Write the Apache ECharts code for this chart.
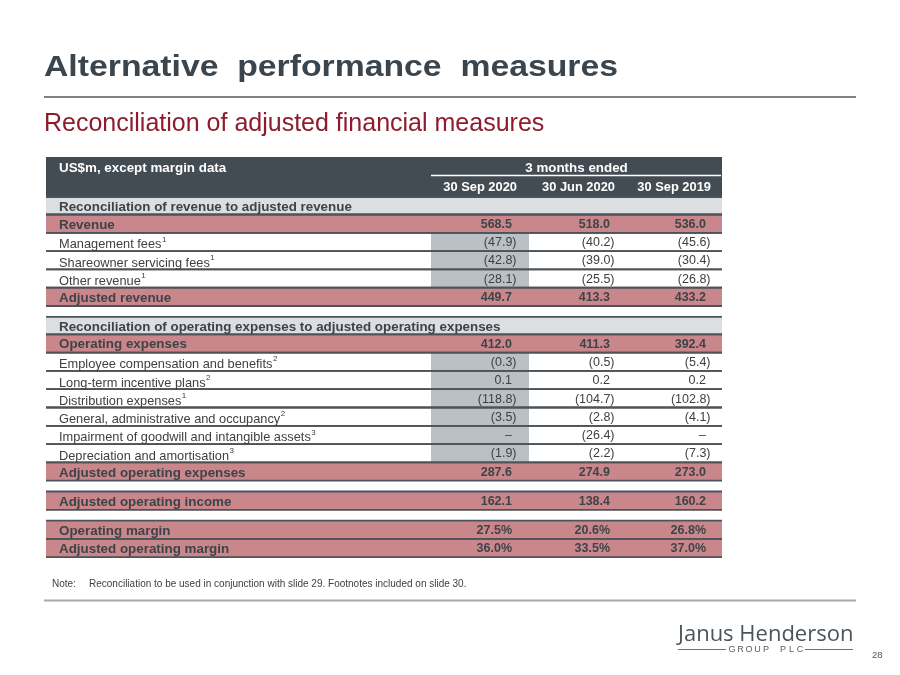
<!DOCTYPE html>
<html><head><meta charset="utf-8">
<script src="https://cdn.jsdelivr.net/npm/echarts@6/dist/echarts.min.js"></script>
<style>html,body{margin:0;padding:0;background:#fff}#c{width:900px;height:675px}</style>
</head><body><div id="c"></div>
<script>
// ---------- data ----------
const periods = ['30 Sep 2020', '30 Jun 2020', '30 Sep 2019'];
const periodGroup = '3 months ended';
const rowLabels = [
  'US$m, except margin data',
  'Reconciliation of revenue to adjusted revenue',
  'Revenue',
  'Management fees',
  'Shareowner servicing fees',
  'Other revenue',
  'Adjusted revenue',
  '',
  'Reconciliation of operating expenses to adjusted operating expenses',
  'Operating expenses',
  'Employee compensation and benefits',
  'Long-term incentive plans',
  'Distribution expenses',
  'General, administrative and occupancy',
  'Impairment of goodwill and intangible assets',
  'Depreciation and amortisation',
  'Adjusted operating expenses',
  '',
  'Adjusted operating income',
  '',
  'Operating margin',
  'Adjusted operating margin'
];
const rowTypes = ['header','section','total','item','item','item','total','spacer',
  'section','total','item','item','item','item','item','item','total','spacer',
  'total','spacer','pct','pct'];
const footnotes = [null,null,null,1,1,1,null,null,null,null,2,2,1,2,3,3,null,null,null,null,null,null];
const sep2020 = [null,null,568.5,-47.9,-42.8,-28.1,449.7,null,null,412.0,-0.3,0.1,-118.8,-3.5,null,-1.9,287.6,null,162.1,null,27.5,36.0];
const jun2020 = [null,null,518.0,-40.2,-39.0,-25.5,413.3,null,null,411.3,-0.5,0.2,-104.7,-2.8,-26.4,-2.2,274.9,null,138.4,null,20.6,33.5];
const sep2019 = [null,null,536.0,-45.6,-30.4,-26.8,433.2,null,null,392.4,-5.4,0.2,-102.8,-4.1,null,-7.3,273.0,null,160.2,null,26.8,37.0];
const titleText = 'Alternative  performance  measures';
const subtitleText = 'Reconciliation of adjusted financial measures';
const noteText = 'Reconciliation to be used in conjunction with slide 29. Footnotes included on slide 30.';

// ---------- layout / style ----------
const FONT = '"Liberation Sans", Arial, Helvetica, sans-serif';
const ROW_H = {header: 40, section: 17.5, total: 18.3, item: 18.3, pct: 18.3, spacer: 10.8};
const TABLE_W = 676;
const rowTop = [];
let acc = 0;
rowTypes.forEach(t => { rowTop.push(acc); acc += ROW_H[t]; });
const TABLE_H = acc;
const LABEL_X = 13;
const VAL_RIGHT = [466, 564, 660];
const BAND = [385, 483];
const cols = [sep2020, jun2020, sep2019];
const BOLD_SCALE = 1.07;

function fmt(v, type) {
  if (v === null || v === undefined) return '\u2013';
  if (v < 0) return '(' + Math.abs(v).toFixed(1) + ')';
  return v.toFixed(1) + (type === 'pct' ? '%' : '');
}

const C = {
  header: '#434b53', section: '#dcdfe2', pink: '#c9878c', band: '#b9c0c6',
  line: '#4d5359', text: '#404040', bold: '#3e4348'
};

function renderItem(params, api) {
  const i = params.dataIndex;
  const type = rowTypes[i];
  const top = rowTop[i], h = ROW_H[type];
  const a = api.coord([0, top]);
  const b = api.coord([TABLE_W, top + h]);
  const x0 = a[0], y0 = a[1], x1 = b[0], y1 = b[1];
  const cy = (y0 + y1) / 2;
  const X = v => api.coord([v, 0])[0];
  const ch = [];
  if (type === 'spacer') return {type: 'group', children: []};
  if (type === 'header') {
    ch.push({type: 'rect', shape: {x: x0, y: y0, width: x1 - x0, height: y1 - y0}, style: {fill: C.header}, z2: 0});
    ch.push({type: 'text', z2: 10, x: X(LABEL_X), y: y0 + 12, scaleX: BOLD_SCALE, style: {text: rowLabels[i], x: 0, y: 0, align: 'left', verticalAlign: 'middle',
      fontFamily: FONT, fontWeight: 'bold', fontSize: 12.5, fill: '#ffffff'}});
    ch.push({type: 'text', z2: 10, x: (X(BAND[0]) + x1) / 2, y: y0 + 11.5, scaleX: BOLD_SCALE, style: {text: periodGroup, x: 0, y: 0, align: 'center', verticalAlign: 'middle',
      fontFamily: FONT, fontWeight: 'bold', fontSize: 12.5, fill: '#ffffff'}});
    ch.push({type: 'line', z2: 10, shape: {x1: X(BAND[0]), y1: y0 + 18.5, x2: x1 - 1, y2: y0 + 18.5}, style: {stroke: '#ffffff', lineWidth: 1.5}});
    periods.forEach((p, k) => {
      ch.push({type: 'text', z2: 10, x: X(VAL_RIGHT[k] + 5), y: y0 + 30.5, scaleX: 1.03, style: {text: p, x: 0, y: 0, align: 'right', verticalAlign: 'middle',
        fontFamily: FONT, fontWeight: 'bold', fontSize: 12.5, fill: '#ffffff'}});
    });
    return {type: 'group', children: ch};
  }
  const isBold = type !== 'item';
  let bg = null;
  if (type === 'section') bg = C.section;
  else if (type === 'total' || type === 'pct') bg = C.pink;
  if (bg) ch.push({type: 'rect', shape: {x: x0, y: y0, width: x1 - x0, height: y1 - y0}, style: {fill: bg}, z2: 0});
  if (type === 'item') {
    ch.push({type: 'rect', shape: {x: X(BAND[0]), y: y0, width: X(BAND[1]) - X(BAND[0]), height: y1 - y0}, style: {fill: C.band}, z2: 1});
  }
  ch.push({type: 'line', z2: 5, shape: {x1: x0, y1: y0, x2: x1, y2: y0}, style: {stroke: C.line, lineWidth: 1.8}});
  ch.push({type: 'line', z2: 5, shape: {x1: x0, y1: y1, x2: x1, y2: y1}, style: {stroke: C.line, lineWidth: 1.8}});
  const fn = footnotes[i];
  const labelY = type === 'item' ? cy + 1.5 : cy;
  const color = isBold ? C.bold : C.text;
  ch.push({type: 'text', z2: 10, x: X(LABEL_X), y: labelY, scaleX: isBold ? BOLD_SCALE : 1.0, style: {
    text: fn ? '{t|' + rowLabels[i] + '}{s|' + fn + '}' : '{t|' + rowLabels[i] + '}',
    x: 0, y: 0, align: 'left', verticalAlign: 'middle',
    rich: {
      t: {fontFamily: FONT, fontSize: isBold ? 12.5 : 12.8, fontWeight: isBold ? 'bold' : 'normal', fill: color, lineHeight: 16, verticalAlign: 'bottom'},
      s: {fontFamily: FONT, fontSize: 8, fill: color, lineHeight: 7, verticalAlign: 'top', padding: [0, 0, 0, 0.5]}
    }
  }});
  if (type !== 'section') {
    cols.forEach((arr, k) => {
      const v = arr[i];
      const s = fmt(v, type);
      const shift = (v !== null && v < 0) ? 4.5 : 0;
      ch.push({type: 'text', z2: 10, style: {text: s, x: X(VAL_RIGHT[k] + shift), y: cy + 0.7, align: 'right', verticalAlign: 'middle',
        fontFamily: FONT, fontSize: 12.5, fontWeight: isBold ? 'bold' : 'normal', fill: color}});
    });
  }
  return {type: 'group', children: ch};
}

const logoLetters = 'GROUP PLC'.split('');
const logoGraphics = logoLetters.map((ch, k) => ({
  type: 'text', style: {text: ch, x: 732 + k * 8.5, y: 649.5, align: 'center', verticalAlign: 'middle',
    fontFamily: FONT, fontSize: 9, fill: '#555d63'}
}));

const chart = echarts.init(document.getElementById('c'), null, {renderer: 'canvas'});
chart.setOption({
  backgroundColor: '#ffffff',
  animation: false,
  grid: {left: 46, top: 157, width: TABLE_W, height: TABLE_H},
  xAxis: {type: 'value', min: 0, max: TABLE_W, show: false},
  yAxis: {type: 'value', min: 0, max: TABLE_H, inverse: true, show: false},
  series: [{
    type: 'custom',
    coordinateSystem: 'cartesian2d',
    renderItem: renderItem,
    data: rowTypes.map((t, i) => [0, rowTop[i]]),
    silent: true
  }],
  graphic: [
    {type: 'text', x: 44, y: 67.5, scaleX: 1.125, style: {text: titleText, x: 0, y: 0, verticalAlign: 'middle',
      fontFamily: FONT, fontSize: 30, fontWeight: 'bold', fill: '#3b454d'}},
    {type: 'line', shape: {x1: 44, y1: 97, x2: 856, y2: 97}, style: {stroke: '#7d8288', lineWidth: 2}},
    {type: 'text', style: {text: subtitleText, x: 44, y: 124, verticalAlign: 'middle',
      fontFamily: FONT, fontSize: 25, fill: '#8e1c2e'}},
    {type: 'text', style: {text: 'Note:', x: 52, y: 584.5, verticalAlign: 'middle', fontFamily: FONT, fontSize: 10, fill: '#404040'}},
    {type: 'text', style: {text: noteText, x: 89, y: 584.5, verticalAlign: 'middle', fontFamily: FONT, fontSize: 10, fill: '#404040'}},
    {type: 'line', shape: {x1: 44, y1: 600.5, x2: 856, y2: 600.5}, style: {stroke: '#a7a9ac', lineWidth: 2}},
    {type: 'text', style: {text: 'Janus Henderson', x: 678, y: 634.5, verticalAlign: 'middle', fontFamily: '"Open Sans", Lato, sans-serif', fontSize: 22, fill: '#4a545b'}},
    ...logoGraphics,
    {type: 'line', shape: {x1: 678, y1: 649.5, x2: 726, y2: 649.5}, style: {stroke: '#6a7278', lineWidth: 1}},
    {type: 'line', shape: {x1: 805, y1: 649.5, x2: 853, y2: 649.5}, style: {stroke: '#6a7278', lineWidth: 1}},
    {type: 'text', style: {text: '28', x: 872, y: 655, verticalAlign: 'middle', fontFamily: FONT, fontSize: 9.5, fill: '#555555'}}
  ]
});
</script></body></html>
